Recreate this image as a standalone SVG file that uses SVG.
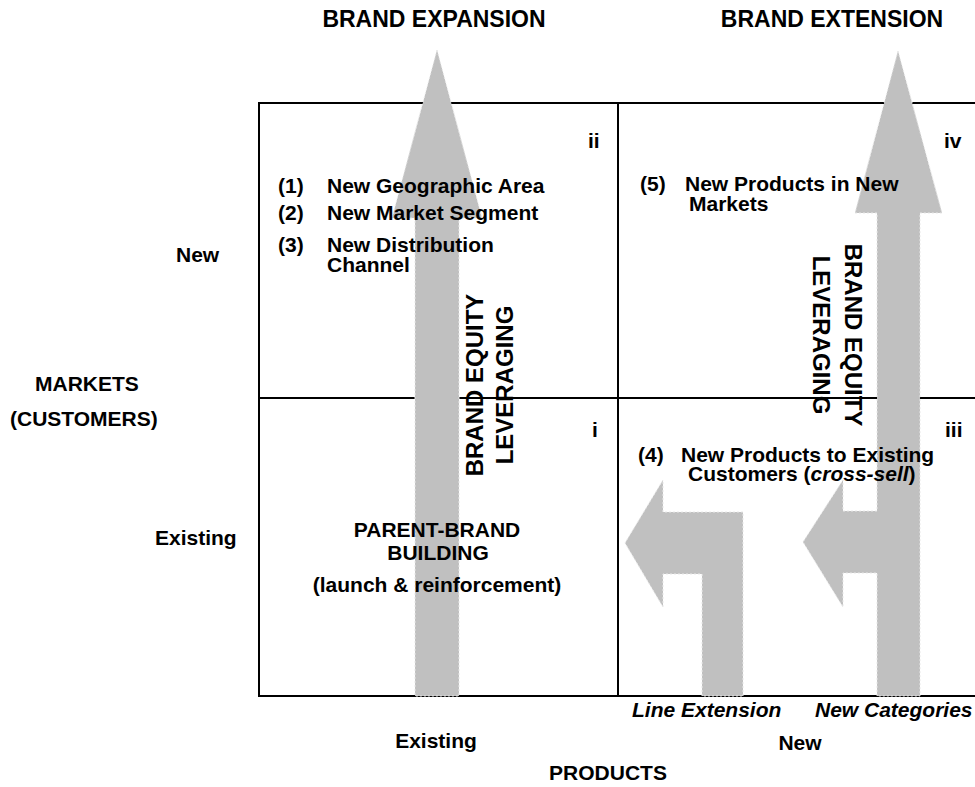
<svg xmlns="http://www.w3.org/2000/svg" width="975" height="787" viewBox="0 0 975 787">
<style>
.t{font-family:"Liberation Sans",Arial,sans-serif;font-weight:bold;font-size:21px;fill:#000}
.i{font-style:italic}
.m{text-anchor:middle}
.r{font-size:24px}
.h{font-size:23px}
.arr{fill:#c0c0c0;stroke:#e8e8e8;stroke-width:1;stroke-dasharray:2 2}
.ln{stroke:#000;stroke-width:2;fill:none}
</style>
<g id="grid">
<path class="ln" d="M976,103 H259 V696 H976 M618,103 V696 M259,398 H976"/>
</g>
<g id="connectors">
<polygon id="arrow-expansion" class="arr" points="437,50 482,218 459,218 459,696 415,696 415,218 392,218"/>
<polygon id="arrow-extension" class="arr" points="898,51 942,213 920,213 920,696 877,696 877,573 843,573 843,607 803,542 843,480 843,511 877,511 877,213 855,213"/>
<polygon id="arrow-line-ext" class="arr" points="743,696 743,512 663,512 663,480 625,543 663,607 663,574 702,574 702,696"/>
</g>
<g id="titles">
<text class="t h m" x="434" y="27">BRAND EXPANSION</text>
<text class="t h m" x="832" y="27">BRAND EXTENSION</text>
</g>
<g id="quadrant-ii">
<text class="t" x="588" y="148">ii</text>
<text class="t" x="278" y="193">(1)</text>
<text class="t" x="327" y="193">New Geographic Area</text>
<text class="t" x="278" y="220">(2)</text>
<text class="t" x="327" y="220">New Market Segment</text>
<text class="t" x="278" y="252">(3)</text>
<text class="t" x="327" y="252">New Distribution</text>
<text class="t" x="327" y="272">Channel</text>
</g>
<g id="quadrant-iv">
<text class="t" x="944" y="148">iv</text>
<text class="t" x="640" y="191">(5)</text>
<text class="t" x="685" y="191">New Products in New</text>
<text class="t" x="689" y="211">Markets</text>
</g>
<g id="quadrant-i">
<text class="t" x="592" y="437">i</text>
<text class="t m" x="437" y="537">PARENT-BRAND</text>
<text class="t m" x="438" y="560">BUILDING</text>
<text class="t m" x="437" y="592">(launch &amp; reinforcement)</text>
</g>
<g id="quadrant-iii">
<text class="t" x="945" y="437">iii</text>
<text class="t" x="638" y="462">(4)</text>
<text class="t" x="681" y="462">New Products to Existing</text>
<text class="t" x="688" y="481">Customers (<tspan class="i">cross-sell</tspan>)</text>
</g>
<g id="leveraging-left" transform="translate(483,385) rotate(-90)">
<text class="t r m" x="0" y="0">BRAND EQUITY</text>
<text class="t r m" x="0" y="30">LEVERAGING</text>
</g>
<g id="leveraging-right" transform="translate(845,335) rotate(90)">
<text class="t r m" x="0" y="0">BRAND EQUITY</text>
<text class="t r m" x="0" y="32">LEVERAGING</text>
</g>
<g id="axis-labels">
<text class="t" x="176" y="262">New</text>
<text class="t" x="35" y="391">MARKETS</text>
<text class="t" x="10" y="426">(CUSTOMERS)</text>
<text class="t" x="155" y="545">Existing</text>
<text class="t i" x="632" y="717">Line Extension</text>
<text class="t i" x="815" y="717">New Categories</text>
<text class="t m" x="436" y="748">Existing</text>
<text class="t m" x="800" y="750">New</text>
<text class="t m" x="608" y="780">PRODUCTS</text>
</g>
</svg>
